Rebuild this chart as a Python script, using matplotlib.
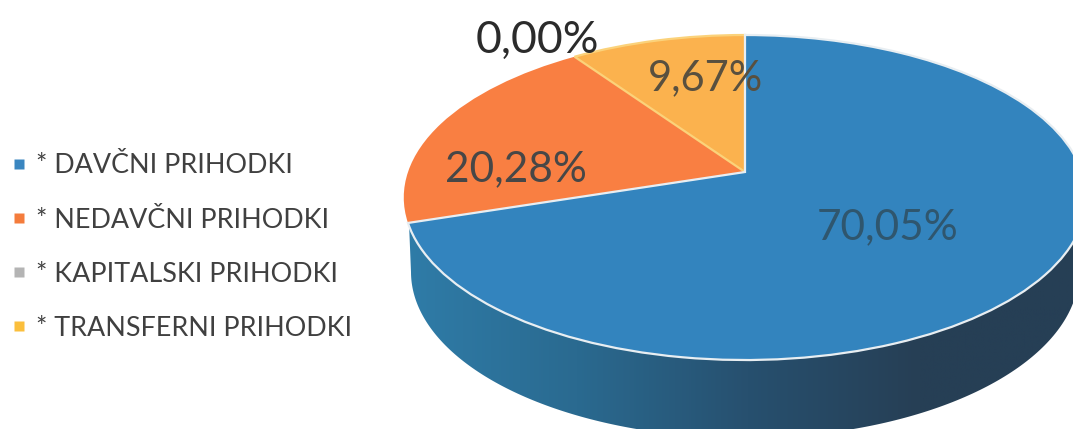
import numpy as np
import matplotlib
matplotlib.use('Agg')
import matplotlib.pyplot as plt
from matplotlib.colors import LinearSegmentedColormap
from matplotlib.lines import Line2D
from matplotlib.patches import Polygon
from matplotlib.transforms import Transform

categories = ['* DAVČNI PRIHODKI', '* NEDAVČNI PRIHODKI', '* KAPITALSKI PRIHODKI', '* TRANSFERNI PRIHODKI']
values = [70.05, 20.28, 0.00, 9.67]
value_labels = ['70,05%', '20,28%', '0,00%', '9,67%']
slice_colors = ['#3384be', '#f97f42', '#b0b0b0', '#fbb24e']
legend_colors = ['#3a86c0', '#f47c3c', '#b4b4b4', '#fbbf3c']
edge_colors = ['#e8eef2', 'none', 'none', '#fbd27a']
label_colors = ['#2f566e', '#474747', '#2b2b2b', '#59503f']
wall_colors = ['#2f7ca8', '#2a6a90', '#27506f', '#263f55', '#263f55']

# pie centre and perspective, in image pixels
CX, CY = 745, 172
RX, RY = 337, 158.5
TILT = 0.157
# lower rim of the side wall
LOW_CY, LOW_RX, LOW_RY = 272, 334, 166


class TiltedPie(Transform):
    # takes the unit circle of ax.pie to the tilted top face
    input_dims = 2
    output_dims = 2

    def transform_non_affine(self, xy):
        xy = np.asarray(xy, dtype=float)
        w = 1 + TILT * xy[:, 1]
        return np.column_stack([CX + RX * xy[:, 0] / w, CY - RY * xy[:, 1] / w])


fig = plt.figure(figsize=(10.73, 4.29), dpi=100)
ax = fig.add_axes([0, 0, 1, 1])

# side wall under the blue slice
t = np.linspace(np.pi, 0, 200)
rim = np.column_stack([CX + LOW_RX * np.cos(t), LOW_CY + LOW_RY * np.sin(t)])
wall_pts = np.vstack([[[409, 223]], rim, [[1089, 197]], [[745, 197]]])
wall = Polygon(wall_pts, closed=True, facecolor='none', edgecolor='none')
ax.add_patch(wall)
wall_cmap = LinearSegmentedColormap.from_list('wall', wall_colors)
gradient = ax.imshow(np.linspace(0, 1, 256).reshape(1, -1), cmap=wall_cmap, extent=[405, 1090, 429, 190], aspect='auto', zorder=1)
gradient.set_clip_path(wall)

wedges, _ = ax.pie(values, colors=slice_colors, startangle=90, counterclock=False)
to_image = TiltedPie() + ax.transData
for wedge, edge in zip(wedges, edge_colors):
    wedge.set_transform(to_image)
    wedge.set_edgecolor(edge)
    wedge.set_linewidth(1.6)
    wedge.set_zorder(2)
wedges[1].set_zorder(2.1)
wedges[3].set_zorder(2.2)
wedges[0].set_zorder(2.3)
wedges[2].set_visible(False)

ax.set_aspect('auto')
ax.set_xlim(0, 1073)
ax.set_ylim(429, 0)
ax.axis('off')

label_pos = [(888, 227), (516, 169), (537, 40), (706, 78)]
label_size = [30.5, 30.5, 32, 30]
for txt, pos, col, size in zip(value_labels, label_pos, label_colors, label_size):
    ax.text(pos[0], pos[1], txt, color=col, fontsize=size, family='Lato', ha='center', va='center', zorder=5)

handles = [Line2D([], [], linestyle='none', marker='s', markersize=7.5, markerfacecolor=c, markeredgecolor='none') for c in legend_colors]
leg = ax.legend(handles, categories, loc='center left', bbox_to_anchor=(0.0, 0.424), frameon=False,
                prop={'family': 'Lato', 'size': 19.4}, labelcolor='#404040', labelspacing=1.08,
                handlelength=0.6, handletextpad=0.35, borderpad=0, borderaxespad=0.4)

fig.savefig('out.png', dpi=100)
